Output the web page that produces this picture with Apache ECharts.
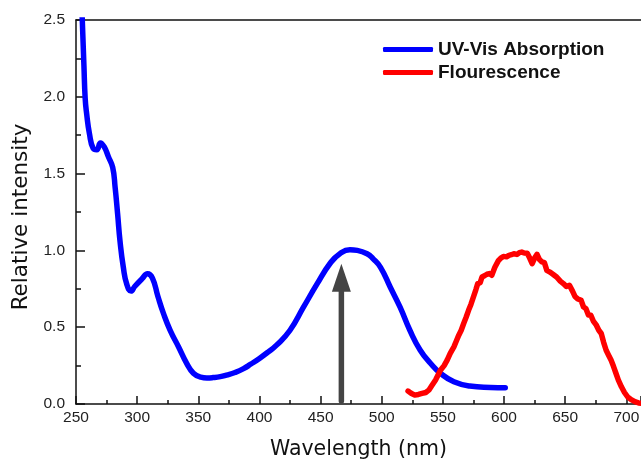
<!DOCTYPE html>
<html>
<head>
<meta charset="utf-8">
<script src="https://cdn.jsdelivr.net/npm/echarts@6/dist/echarts.min.js"></script>
<style>
  html, body { margin: 0; padding: 0; background: #fff; }
  #chart { width: 641px; height: 460px; }
</style>
</head>
<body>
<div id="chart"></div>
<script>
// UV-Vis absorption spectrum (blue)
const uvWavelength = [254, 256.5, 257.5, 258.7, 261, 264, 267, 270, 273, 276.5, 280, 282, 284, 286, 288.7,
  291.5, 295, 298, 304, 308.5, 312.5, 317, 321.5, 327, 334, 340.5, 346, 352, 357, 362, 368, 373, 380, 387,
  393, 400, 407, 414, 425, 436, 447, 458, 466, 474, 480, 488, 493, 499, 507, 515, 523, 531.5, 540, 548, 559, 572, 589, 601];
const uvIntensity = [2.75, 2.2, 1.99, 1.89, 1.76, 1.665, 1.655, 1.70, 1.675, 1.61, 1.54, 1.41, 1.24, 1.06, 0.89,
  0.78, 0.735, 0.765, 0.815, 0.848, 0.82, 0.70, 0.59, 0.48, 0.37, 0.265, 0.20, 0.175, 0.17, 0.172, 0.178, 0.188, 0.205, 0.23,
  0.26, 0.297, 0.338, 0.383, 0.48, 0.63, 0.78, 0.918, 0.98, 1.004, 1.0, 0.978, 0.945, 0.89, 0.76, 0.63, 0.48, 0.35, 0.264, 0.20, 0.145, 0.117, 0.108, 0.106];

// Fluorescence spectrum (red)
const flWavelength = [521.5, 524, 527, 530, 533, 536, 538.5, 541, 544, 548, 551, 553.5, 556, 559, 561, 563, 565,
  567, 569, 571, 573, 575, 577, 578.5, 580.5, 582, 584, 586, 588, 590, 592.5, 595.5, 597.5, 599.5, 602, 604,
  606, 608, 610.5, 612.5, 614.5, 616.5, 619, 621, 623, 625, 627, 629, 631, 633, 635, 637.5, 640, 643, 646,
  648.5, 651, 653.5, 656, 658, 660, 663, 665, 667, 669, 671, 673, 675.5, 677.5, 679.5, 681.5, 683.5, 685.5,
  687.5, 689.5, 691.5, 693.5, 696, 698.5, 701, 704, 707, 710, 714];
const flIntensity = [0.084, 0.07, 0.058, 0.062, 0.069, 0.075, 0.09, 0.12, 0.156, 0.22, 0.25, 0.286, 0.33, 0.372, 0.41, 0.448, 0.48,
  0.524, 0.565, 0.61, 0.65, 0.697, 0.745, 0.784, 0.79, 0.827, 0.835, 0.845, 0.849, 0.838, 0.89, 0.935, 0.95, 0.961, 0.958, 0.968,
  0.972, 0.978, 0.974, 0.985, 0.989, 0.983, 0.982, 0.95, 0.913, 0.95, 0.974, 0.94, 0.925, 0.92, 0.87, 0.859, 0.845, 0.827, 0.8,
  0.784, 0.765, 0.773, 0.735, 0.70, 0.686, 0.675, 0.632, 0.62, 0.58, 0.578, 0.54, 0.513, 0.48, 0.459, 0.40, 0.35, 0.318,
  0.286, 0.245, 0.20, 0.155, 0.112, 0.075, 0.047, 0.028, 0.015, 0.007, 0.004];

// excitation arrow: wavelength, from / to intensity
const arrowWavelength = [467];
const arrowFrom = [0];
const arrowTo = [0.913];

const seriesNames = ['UV-Vis Absorption', 'Flourescence'];

const chart = echarts.init(document.getElementById('chart'));

const tickFont = { fontFamily: 'Liberation Sans', fontSize: 15.5, color: '#222' };
const axisColor = '#111';

// draws a vertical arrow from value(1) up to value(2)
function renderArrow(params, api) {
  const base = api.coord([api.value(0), api.value(1)]);
  const tip = api.coord([api.value(0), api.value(2)]);
  const headW = 19, headH = 28;
  return {
    type: 'group',
    children: [
      {
        type: 'line',
        shape: { x1: base[0], y1: base[1] - 3, x2: tip[0], y2: tip[1] + headH - 2 },
        style: { stroke: '#444', lineWidth: 5.5, lineCap: 'round' },
      },
      {
        type: 'polygon',
        shape: { points: [[tip[0], tip[1]], [tip[0] + headW / 2, tip[1] + headH], [tip[0] - headW / 2, tip[1] + headH]] },
        style: { fill: '#444' },
      },
    ],
  };
}

chart.setOption({
  animation: false,
  grid: { left: 76, right: 0, top: 20, bottom: 56, containLabel: false, outerBoundsMode: 'none' },
  legend: {
    data: seriesNames,
    orient: 'vertical',
    left: 383,
    top: 40,
    padding: 0,
    itemWidth: 50,
    itemHeight: 5,
    itemGap: 4,
    icon: 'roundRect',
    textStyle: { fontFamily: 'Liberation Sans', fontSize: 19, fontWeight: 'bold', color: '#111' },
  },
  xAxis: [
    {
      type: 'value',
      min: 250,
      max: 712,
      interval: 50,
      name: 'Wavelength (nm)',
      nameLocation: 'middle',
      nameGap: 35,
      nameTextStyle: { fontFamily: 'DejaVu Sans', fontSize: 20.5, color: '#111' },
      axisLine: { lineStyle: { color: axisColor, width: 1.5 } },
      axisTick: { inside: true, length: 8, lineStyle: { color: axisColor, width: 1.5 } },
      minorTick: { show: true, splitNumber: 2, length: 4, lineStyle: { color: axisColor, width: 1.5 } },
      axisLabel: Object.assign({ margin: 6, showMaxLabel: false }, tickFont),
      splitLine: { show: false },
    },
    {
      type: 'value',
      position: 'top',
      min: 250,
      max: 712,
      axisLine: { show: true, lineStyle: { color: axisColor, width: 1.5 } },
      axisTick: { show: false },
      axisLabel: { show: false },
      splitLine: { show: false },
    },
  ],
  yAxis: {
    type: 'value',
    min: 0,
    max: 2.5,
    interval: 0.5,
    name: 'Relative intensity',
    nameLocation: 'middle',
    nameGap: 42,
    nameTextStyle: { fontFamily: 'DejaVu Sans', fontSize: 21.5, color: '#111', padding: [0, 10, 0, 0] },
    axisLine: { show: true, lineStyle: { color: axisColor, width: 1.5 } },
    axisTick: { show: true, inside: true, length: 9, lineStyle: { color: axisColor, width: 1.5 } },
    minorTick: { show: true, splitNumber: 2, length: 5, lineStyle: { color: axisColor, width: 1.5 } },
    axisLabel: Object.assign({ margin: 11, formatter: (v) => v.toFixed(1) }, tickFont),
    splitLine: { show: false },
  },
  series: [
    {
      name: seriesNames[0],
      type: 'line',
      data: uvWavelength.map((x, i) => [x, uvIntensity[i]]),
      smooth: 0.5,
      showSymbol: false,
      symbol: 'none',
      clip: true,
      color: '#0000ff',
      lineStyle: { color: '#0000ff', width: 5.5, cap: 'round', join: 'round' },
      silent: true,
    },
    {
      name: seriesNames[1],
      type: 'line',
      data: flWavelength.map((x, i) => [x, flIntensity[i]]),
      showSymbol: false,
      symbol: 'none',
      clip: true,
      color: '#ff0000',
      lineStyle: { color: '#ff0000', width: 5.5, cap: 'round', join: 'round' },
      silent: true,
    },
    {
      name: 'arrow',
      type: 'custom',
      silent: true,
      encode: { x: 0, y: [1, 2] },
      data: arrowWavelength.map((x, i) => [x, arrowFrom[i], arrowTo[i]]),
      renderItem: renderArrow,
    },
  ],
});
</script>
</body>
</html>
